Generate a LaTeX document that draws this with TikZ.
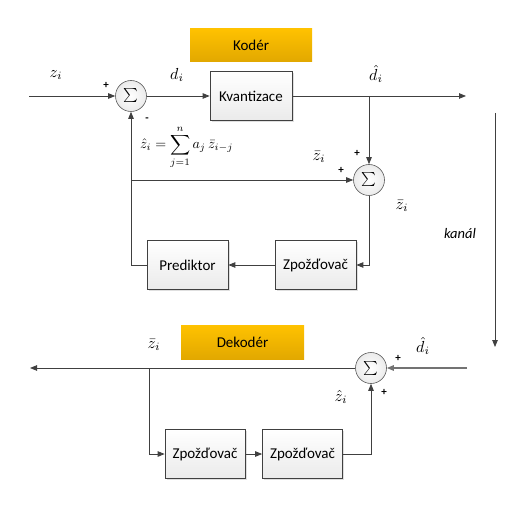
\documentclass[tikz,border=0pt]{standalone}
\usepackage{amsmath}
\usepackage{graphicx}
\usepackage{fontspec}
\setsansfont{Carlito}
\usetikzlibrary{arrows.meta,shadows,calc}
\newcommand{\mlab}[1]{\scalebox{1.6}{$#1$}}
\begin{document}
\begin{tikzpicture}[x=1pt,y=-1pt,
  blk/.style={draw=black!75, line width=0.7pt, top color=white, bottom color=black!8,
    minimum width=80pt, minimum height=49pt, inner sep=0pt, font=\sffamily\fontsize{15}{17}\selectfont,
    drop shadow={shadow xshift=1.5pt, shadow yshift=-1.5pt, opacity=0.25}},
  sumnode/.style={circle, draw=black!65, line width=0.6pt, inner sep=0pt, minimum size=31pt,
    inner color=white, outer color=black!8},
  goldbox/.style={top color={rgb,255:red,255;green,194;blue,0}, bottom color={rgb,255:red,226;green,168;blue,0},
    draw=none, inner sep=0pt, font=\sffamily\fontsize{15}{17}\selectfont},
  wire/.style={draw=black!75, line width=0.8pt},
  arr/.style={wire, -{Triangle[length=7pt,width=5.5pt]}},
  sgn/.style={font=\sffamily\bfseries\fontsize{11}{12}\selectfont, inner sep=0pt},
  lbl/.style={inner sep=0pt}
]
\useasboundingbox (0,0) rectangle (532,529);
% ---------- Coder ----------
\node[goldbox, minimum width=122pt, minimum height=33pt] (koder) at (251,45) {Kodér};
\coordinate (zin) at (29,96);
\node[sumnode] (s1) at (131,96) {\scalebox{1.4}{$\sum$}};
\node[blk, minimum width=82pt] (kv) at (251,96) {Kvantizace};
\coordinate (out) at (466,96);
\coordinate (br1) at (369,96);
\node[sumnode] (s2) at (369,180) {\scalebox{1.4}{$\sum$}};
\node[blk, minimum width=81pt] (pred) at (187.5,265) {Prediktor};
\node[blk, minimum width=81pt] (zp) at (315.5,265) {Zpožďovač};
\coordinate (fb) at (131,265);
\coordinate (fbm) at (131,180);
\coordinate (s2d) at (369,265);

\draw[arr] (zin) -- (s1);
\draw[arr] (s1) -- (kv);
\draw[arr] (kv) -- (out);
\draw[arr] (br1) -- (s2);
\draw[arr] (s2) -- (s2d) -- (zp);
\draw[arr] (zp) -- (pred);
\draw[arr] (pred) -- (fb) -- (s1);
\draw[arr] (fbm) -- (s2);

% channel
\coordinate (ch1) at (495,113);
\coordinate (ch2) at (495,347);
\draw[arr] (ch1) -- (ch2);
\node[lbl, font=\sffamily\itshape\fontsize{14.5}{16}\selectfont] (kanal) at (460,234) {kanál};

% labels coder
\node[lbl] (lz) at (56,75) {\mlab{z_i}};
\node[sgn] (p1) at (106,85) {+};
\node[sgn] (m1) at (147,120) {-};
\node[lbl] (ld) at (177,75) {\mlab{d_i}};
\node[lbl] (ldh) at (376,74) {\mlab{\hat d_i}};
\node[lbl, anchor=west] (form) at (140,147) {\scalebox{1.4}{$\hat z_i=\displaystyle\sum_{j=1}^{n} a_j\,\bar z_{i-j}$}};
\node[lbl] (lzb1) at (319,157) {\mlab{\bar z_i}};
\node[sgn] (p2) at (357,153) {+};
\node[sgn] (p3) at (341,170) {+};
\node[lbl] (lzb2) at (402,206) {\mlab{\bar z_i}};

% ---------- Decoder ----------
\node[goldbox, minimum width=123pt, minimum height=34pt] (dekoder) at (242.5,342) {Dekodér};
\node[sumnode] (s3) at (371,368) {\scalebox{1.4}{$\sum$}};
\coordinate (din) at (467,368);
\coordinate (dout) at (30,368);
\coordinate (br2) at (149,368);
\coordinate (br2d) at (149,454);
\node[blk, minimum width=80pt] (z1) at (205,454) {Zpožďovač};
\node[blk, minimum width=80pt] (z2) at (302.5,454) {Zpožďovač};
\coordinate (z2r) at (371,454);

\draw[wire, black!55, line width=1.3pt, -{Triangle[length=7pt,width=5.5pt]}] (din) -- (s3);
\draw[arr] (s3) -- (dout);
\draw[arr] (br2) -- (br2d) -- (z1);
\draw[arr] (z1) -- (z2);
\draw[arr] (z2) -- (z2r) -- (s3);

\node[lbl] (lzb3) at (154,345) {\mlab{\bar z_i}};
\node[lbl] (ldh2) at (423,346) {\mlab{\hat d_i}};
\node[sgn] (p4) at (398,358) {+};
\node[sgn] (p5) at (384,392) {+};
\node[lbl] (lzh) at (341,397) {\mlab{\hat z_i}};
\end{tikzpicture}
\end{document}
